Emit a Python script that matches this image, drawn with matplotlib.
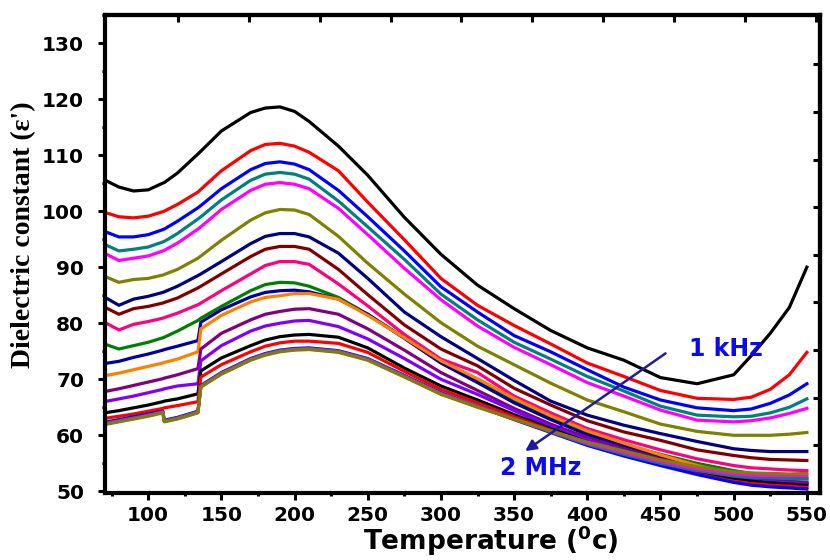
import matplotlib
matplotlib.use('Agg')
import matplotlib.pyplot as plt
from matplotlib.ticker import MultipleLocator

plt.rcParams['font.family'] = ['DejaVu Sans']
plt.rcParams['font.weight'] = 'bold'
plt.rcParams['mathtext.fontset'] = 'dejavusans'

# temperature grid (deg C) shared by every frequency curve
temp = [70, 80, 90, 100, 110, 111, 120, 134, 136, 150, 170, 180, 190, 200, 210, 230, 250,
        275, 300, 325, 350, 375, 400, 425, 450, 475, 500, 512, 525, 538, 550]

# dielectric constant, one list per measuring frequency (1 kHz ... 2 MHz)
eps_01 = [105.6, 104.3, 103.6, 103.8, 105.0, 105.1, 106.8, 110.2, 110.7, 114.3, 117.6, 118.4, 118.6, 117.8, 116.0, 111.6, 106.4,
          98.9, 92.3, 86.8, 82.6, 78.7, 75.6, 73.4, 70.3, 69.2, 70.8, 74.2, 78.2, 82.8, 90.0]
eps_02 = [99.8, 99.0, 98.8, 99.1, 99.9, 100.0, 101.2, 103.4, 103.9, 107.2, 110.8, 111.9, 112.1, 111.6, 110.5, 107.2, 101.6,
          94.9, 88.0, 83.2, 79.6, 76.3, 72.9, 70.5, 68.0, 66.6, 66.4, 66.8, 68.2, 70.8, 74.8]
eps_03 = [96.4, 95.4, 95.4, 95.8, 96.7, 96.8, 98.2, 100.6, 101.0, 104.0, 107.4, 108.5, 108.8, 108.4, 107.4, 103.7, 99.0,
          92.9, 86.5, 82.0, 77.8, 74.9, 71.7, 68.6, 66.3, 64.9, 64.4, 64.7, 65.7, 67.2, 69.2]
eps_04 = [94.1, 92.9, 93.2, 93.6, 94.5, 94.6, 96.0, 98.6, 99.0, 102.0, 105.5, 106.6, 106.9, 106.6, 105.7, 101.8, 97.2,
          91.4, 85.2, 80.6, 76.6, 73.6, 70.5, 67.9, 65.2, 63.6, 63.3, 63.4, 64.0, 65.0, 66.5]
eps_05 = [92.5, 91.2, 91.6, 92.0, 92.9, 93.0, 94.3, 96.8, 97.2, 100.3, 103.7, 104.8, 105.1, 104.8, 104.0, 100.5, 95.8,
          89.8, 84.2, 79.5, 75.7, 72.6, 69.4, 67.0, 64.5, 62.7, 62.4, 62.6, 63.1, 63.9, 64.8]
eps_06 = [88.4, 87.3, 87.8, 88.0, 88.6, 88.7, 89.6, 91.6, 92.0, 94.8, 98.4, 99.7, 100.3, 100.2, 99.4, 95.5, 90.7,
          85.2, 80.1, 75.9, 72.6, 69.3, 66.3, 64.2, 62.0, 60.7, 60.0, 60.0, 60.0, 60.2, 60.5]
eps_07 = [84.7, 83.2, 84.3, 84.8, 85.5, 85.6, 86.6, 88.5, 88.8, 91.0, 94.2, 95.5, 96.0, 96.0, 95.4, 92.5, 88.0,
          82.0, 77.6, 73.7, 69.8, 66.1, 63.6, 61.8, 60.3, 58.9, 57.6, 57.3, 57.1, 57.1, 57.1]
eps_08 = [82.9, 81.6, 82.6, 83.0, 83.6, 83.7, 84.5, 86.3, 86.6, 88.8, 91.9, 93.2, 93.7, 93.7, 93.2, 89.6, 85.1,
          79.7, 75.4, 72.4, 68.4, 65.4, 62.6, 60.6, 59.1, 57.4, 56.4, 56.0, 55.7, 55.6, 55.5]
eps_09 = [80.2, 78.8, 79.8, 80.3, 80.9, 81.0, 81.8, 83.3, 83.6, 85.8, 88.8, 90.3, 91.0, 91.0, 90.5, 87.0, 83.1,
          78.0, 73.6, 71.2, 67.0, 64.0, 61.2, 59.2, 57.4, 55.8, 54.6, 54.2, 54.0, 53.8, 53.7]
eps_10 = [76.3, 75.4, 76.0, 76.6, 77.4, 77.5, 78.6, 80.5, 80.9, 83.0, 85.8, 86.9, 87.3, 87.2, 86.6, 84.6, 81.6,
          77.4, 73.0, 69.6, 66.0, 63.0, 60.4, 58.4, 56.6, 55.0, 53.7, 53.2, 52.8, 52.5, 52.3]
eps_11 = [72.8, 73.2, 73.9, 74.5, 75.2, 75.3, 75.9, 76.9, 80.2, 82.4, 84.7, 85.5, 85.8, 85.9, 85.6, 84.3, 81.6,
          77.3, 72.9, 69.4, 65.8, 62.8, 60.1, 58.1, 56.2, 54.5, 53.0, 52.4, 52.0, 51.7, 51.5]
eps_12 = [70.6, 71.1, 71.7, 72.3, 72.9, 73.0, 73.6, 74.9, 79.0, 81.4, 83.8, 84.6, 84.9, 85.3, 85.3, 84.3, 81.4,
          77.4, 73.3, 70.1, 66.6, 63.5, 60.8, 58.6, 56.5, 54.6, 53.1, 52.5, 52.1, 51.8, 51.6]
eps_13 = [67.8, 68.3, 68.9, 69.5, 70.1, 70.2, 70.8, 71.9, 75.4, 78.2, 80.6, 81.6, 82.1, 82.5, 82.6, 81.6, 79.0,
          75.2, 71.2, 68.0, 64.8, 62.0, 59.6, 57.6, 55.8, 54.1, 52.8, 52.3, 52.0, 51.8, 51.6]
eps_14 = [66.0, 66.5, 67.0, 67.6, 68.2, 68.3, 68.8, 69.2, 73.3, 76.0, 78.6, 79.5, 80.0, 80.4, 80.5, 79.4, 77.2,
          73.7, 70.0, 67.3, 64.4, 61.6, 59.2, 57.2, 55.4, 53.8, 52.5, 52.0, 51.7, 51.5, 51.3]
eps_15 = [64.0, 64.4, 64.9, 65.4, 66.0, 66.1, 66.5, 67.4, 71.5, 73.8, 76.0, 77.0, 77.6, 77.9, 78.0, 77.5, 75.6,
          72.0, 68.8, 66.3, 63.7, 61.2, 58.8, 56.9, 55.1, 53.5, 52.2, 51.8, 51.5, 51.3, 51.1]
eps_16 = [63.0, 63.4, 63.8, 64.3, 64.8, 64.9, 65.3, 66.0, 70.4, 72.6, 74.9, 75.9, 76.5, 76.8, 76.8, 76.4, 74.8,
          71.4, 68.2, 65.8, 63.3, 60.9, 58.5, 56.6, 54.8, 53.1, 51.8, 51.4, 51.1, 50.9, 50.7]
eps_17 = [62.3, 62.8, 63.3, 63.8, 64.3, 62.7, 63.2, 64.3, 68.9, 71.2, 73.7, 74.6, 75.2, 75.5, 75.6, 75.1, 73.7,
          70.7, 67.6, 65.2, 62.8, 60.5, 58.2, 56.3, 54.6, 53.0, 51.6, 51.1, 50.8, 50.6, 50.4]
eps_18 = [62.1, 62.6, 63.1, 63.6, 64.2, 62.6, 63.1, 64.2, 68.8, 71.1, 73.6, 74.5, 75.1, 75.4, 75.5, 75.0, 73.6,
          70.6, 67.5, 65.2, 62.9, 60.6, 58.4, 56.6, 55.0, 53.7, 52.7, 52.5, 52.4, 52.3, 52.2]
eps_19 = [62.0, 62.5, 63.0, 63.5, 64.1, 62.5, 63.0, 64.1, 68.7, 71.0, 73.5, 74.4, 75.0, 75.3, 75.4, 74.9, 73.5,
          70.5, 67.4, 65.1, 62.9, 60.7, 58.6, 56.9, 55.3, 54.0, 53.1, 52.9, 52.8, 52.8, 52.8]
eps_20 = [61.9, 62.4, 62.9, 63.4, 64.0, 62.4, 62.9, 64.0, 68.6, 70.9, 73.4, 74.3, 74.9, 75.2, 75.3, 74.8, 73.4,
          70.4, 67.3, 65.0, 62.9, 60.8, 58.8, 57.2, 55.6, 54.4, 53.5, 53.3, 53.2, 53.1, 53.2]

curves = [eps_01, eps_02, eps_03, eps_04, eps_05, eps_06, eps_07, eps_08, eps_09, eps_10,
          eps_11, eps_12, eps_13, eps_14, eps_15, eps_16, eps_17, eps_18, eps_19, eps_20]
colors = ['#000000', '#ff0000', '#0000ff', '#008080', '#ff00ff', '#808000', '#000080',
          '#800000', '#ff0080', '#008000', '#0000a0', '#ff8000', '#800080', '#8000ff',
          '#000000', '#ff0000', '#0000ff', '#008080', '#ff00ff', '#808000']

fig = plt.figure(figsize=(8.3, 5.6), dpi=100)
ax = fig.add_axes([0.1265, 0.1196, 0.8615, 0.8536])

for eps, c in zip(curves, colors):
    ax.plot(temp, eps, color=c, lw=2.3, solid_joinstyle='round')

ax.set_xlim(70.5, 559)
ax.set_ylim(49.7, 135)
ax.xaxis.set_major_locator(MultipleLocator(50))
ax.xaxis.set_minor_locator(MultipleLocator(25))
ax.yaxis.set_major_locator(MultipleLocator(10))
ax.yaxis.set_minor_locator(MultipleLocator(5))
ax.set_yticks(range(50, 131, 10))

for s in ax.spines.values():
    s.set_linewidth(3)
ax.tick_params(which='major', direction='out', length=5, width=2.2, labelsize=14.5, pad=4)
ax.tick_params(axis='y', which='major', pad=10)
ax.tick_params(which='minor', direction='out', length=2.5, width=2.2)
for lab in ax.get_xticklabels() + ax.get_yticklabels():
    lab.set_fontweight('bold')

# linked top / right axes with their own inward ticks
top = ax.secondary_xaxis('top')
top.set_xticks([120.4, 168.8, 217.2, 265.6, 314.0, 362.4, 410.8, 459.2, 507.6, 556.0])
top.set_xticklabels([])
top.tick_params(direction='in', length=5, width=2.2)
top.spines['top'].set_linewidth(3)
right = ax.secondary_yaxis('right')
right.set_yticks([58.2, 66.7, 75.2, 83.7, 92.2, 100.7, 109.2, 117.7, 126.2])
right.set_yticklabels([])
right.tick_params(direction='in', length=5, width=2.2)
right.spines['right'].set_linewidth(3)

ax.set_xlabel(r'Temperature ($\mathbf{^{0}}$c)', fontsize=19, fontweight='bold')
ax.xaxis.set_label_coords(0.54, -0.064)
ax.set_ylabel("Dielectric constant (ε')", fontsize=20, fontweight='bold',
              family=['Liberation Serif', 'DejaVu Serif'])
ax.yaxis.set_label_coords(-0.097, 0.54)

# frequency direction arrow
ax.annotate('', xy=(356, 56.9), xytext=(455, 74.9),
            arrowprops=dict(arrowstyle='-|>', color='#1c1c9c', lw=1.8, mutation_scale=16))
ax.text(494.7, 75.4, '1 kHz', color='#0a0af0', fontsize=17, fontweight='bold',
        ha='center', va='center')
ax.text(368, 54.1, '2 MHz', color='#0a0af0', fontsize=17, fontweight='bold',
        ha='center', va='center')

fig.savefig('out.png', dpi=100)
